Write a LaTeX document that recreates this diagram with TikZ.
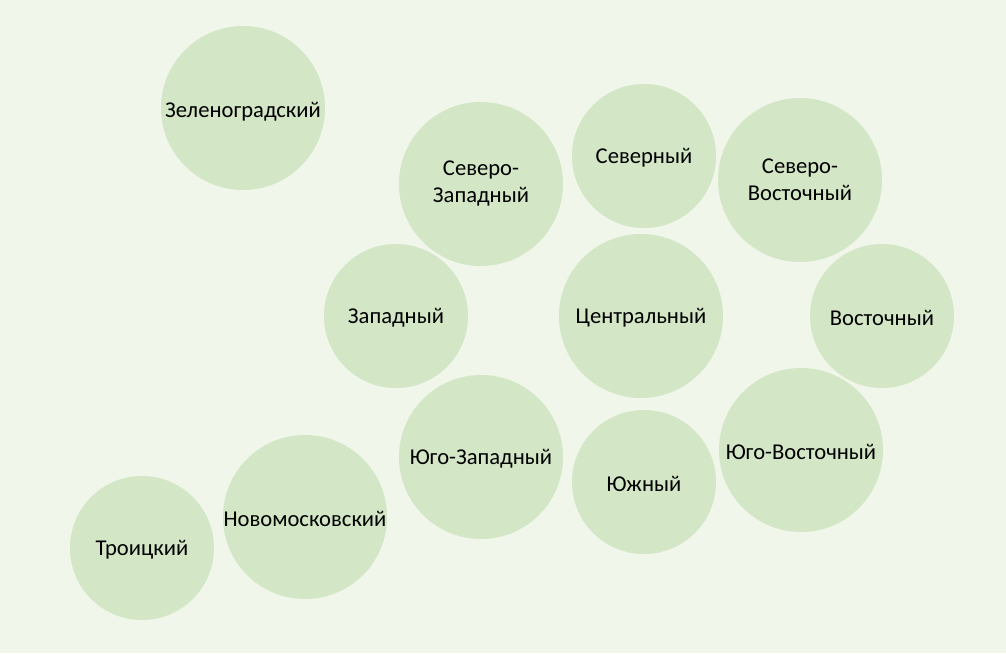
\documentclass[tikz,border=0pt]{standalone}
\usepackage{fontspec}
\setmainfont{Carlito}
\usepackage{xcolor}
\definecolor{bgpale}{HTML}{F0F6EA}
\definecolor{okrug}{HTML}{D3E6C5}

\begin{document}
\begin{tikzpicture}[
  x=1pt, y=-1pt,
  font=\fontsize{22.6}{27}\selectfont,
  okr/.style={circle, fill=okrug, draw=none, inner sep=0pt},
  big/.style={okr, minimum size=164pt},
  small/.style={okr, minimum size=144pt},
  name1/.style={align=center, yshift=-2pt},
  name2/.style={align=center, yshift=0pt}]

% background
\fill[bgpale] (0,0) rectangle (1006,653);
\useasboundingbox (0,0) rectangle (1006,653);

% top row
\node[big, label={[name1, yshift=-2pt]center:Зеленоградский}] (zel) at (243,108) {};
\node[big, label={[name2]center:Северо-\\Западный}] (szao) at (481,184) {};
\node[small, label={[name1]center:Северный}] (sao) at (644,156) {};
\node[big, label={[name2]center:Северо-\\Восточный}] (svao) at (800,180) {};

% middle row
\node[small, label={[name1]center:Западный}] (zao) at (396,316) {};
\node[big, label={[name1]center:Центральный}] (cao) at (641,316) {};
\node[small, label={[name1]center:Восточный}] (vao) at (882,316) {};

% bottom row
\node[big, label={[name1]center:Юго-Западный}] (yuzao) at (481,457) {};
\node[small, label={[name1]center:Южный}] (yuao) at (644,482) {};
\node[big, label={[name1]center:Юго-Восточный}] (yuvao) at (801,450) {};

% new territories
\node[big, label={[name1]center:Новомосковский}] (novo) at (305,517) {};
\node[small, label={[name1]center:Троицкий}] (troi) at (142,548) {};
\end{tikzpicture}
\end{document}
